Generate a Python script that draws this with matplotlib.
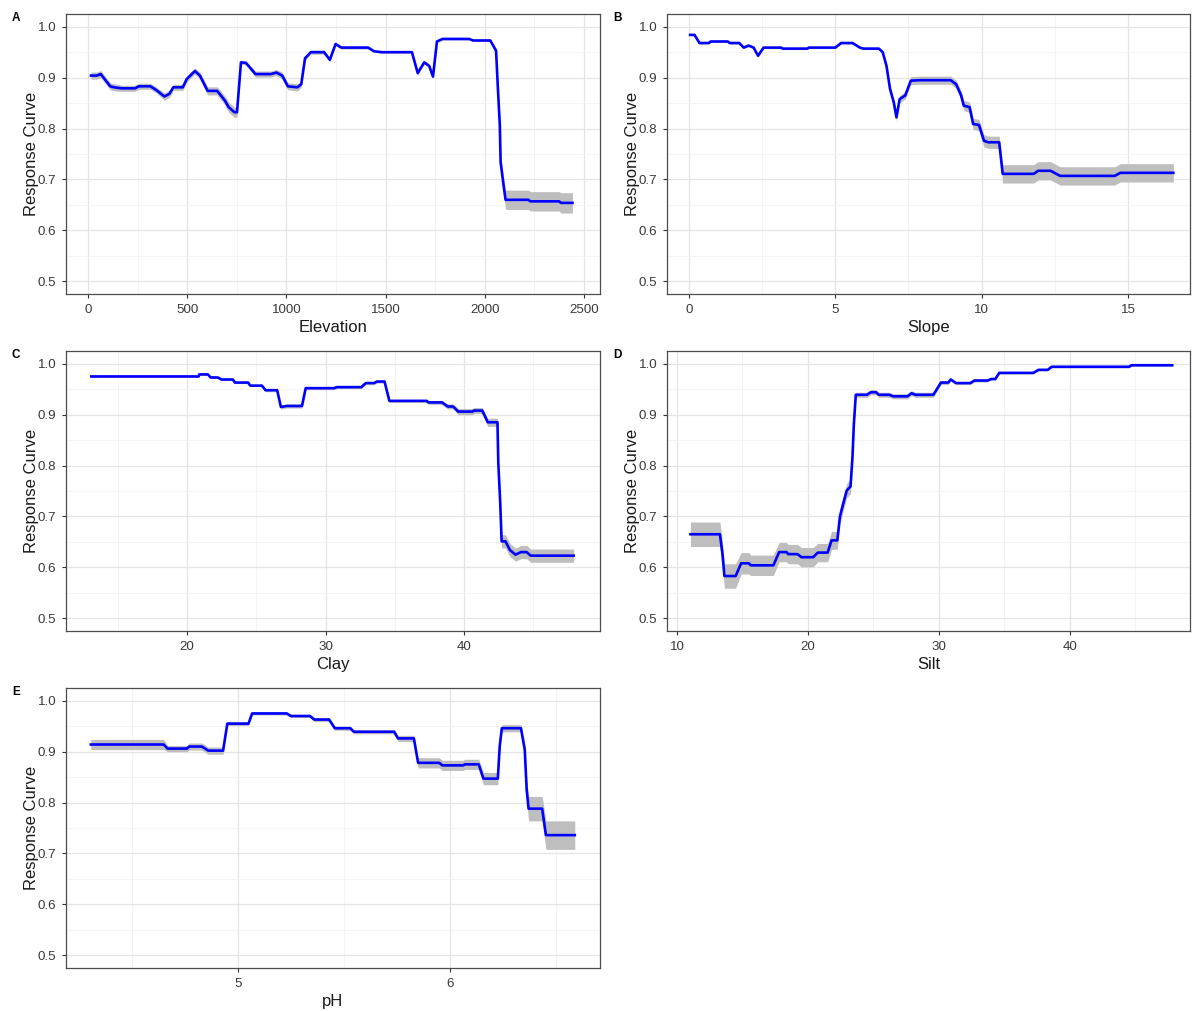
import numpy as np
import matplotlib.pyplot as plt
from matplotlib.ticker import MultipleLocator

plt.rcParams['font.family'] = ['Liberation Sans', 'DejaVu Sans']

# ---- data (x, response, half-width of grey band) ----
elev_x = [15, 44, 64, 112, 131, 169, 237, 256, 314, 343, 385, 410, 430, 478, 497, 539,
          564, 603, 651, 690, 709, 738, 751, 771, 796, 844, 921, 950, 979, 1007, 1055,
          1075, 1094, 1123, 1190, 1219, 1248, 1277, 1412, 1441, 1479, 1633, 1662, 1695,
          1720, 1739, 1759, 1787, 1922, 1941, 2028, 2057, 2066, 2076, 2080, 2095, 2105,
          2220, 2230, 2375, 2384, 2442]
elev_y = [0.904, 0.904, 0.907, 0.883, 0.881, 0.879, 0.879, 0.883, 0.883, 0.876, 0.863,
          0.868, 0.881, 0.881, 0.897, 0.913, 0.904, 0.874, 0.874, 0.855, 0.842, 0.832,
          0.832, 0.930, 0.929, 0.907, 0.907, 0.910, 0.904, 0.883, 0.881, 0.887, 0.938,
          0.950, 0.950, 0.935, 0.966, 0.959, 0.959, 0.952, 0.950, 0.950, 0.909, 0.930,
          0.923, 0.902, 0.971, 0.976, 0.976, 0.973, 0.973, 0.953, 0.881, 0.806, 0.734,
          0.688, 0.660, 0.660, 0.657, 0.657, 0.654, 0.654]
elev_se = [0.007, 0.007, 0.007, 0.007, 0.007, 0.006, 0.006, 0.006, 0.006, 0.006, 0.007,
           0.007, 0.006, 0.006, 0.006, 0.006, 0.007, 0.008, 0.008, 0.009, 0.010, 0.010,
           0.010, 0.004, 0.004, 0.006, 0.006, 0.006, 0.007, 0.007, 0.007, 0.006, 0.004,
           0.004, 0.004, 0.004, 0.003, 0.003, 0.003, 0.002, 0.002, 0.002, 0.004, 0.003,
           0.003, 0.003, 0.002, 0.002, 0.002, 0.002, 0.002, 0.003, 0.005, 0.008, 0.012,
           0.016, 0.019, 0.019, 0.019, 0.019, 0.020, 0.020]

slope_x = [0.04, 0.19, 0.36, 0.68, 0.74, 1.33, 1.39, 1.72, 1.87, 2.04, 2.21, 2.36, 2.55,
           3.15, 3.2, 4.04, 4.1, 5.0, 5.2, 5.59, 5.84, 5.97, 6.49, 6.62, 6.75, 6.87, 7.0,
           7.09, 7.2, 7.39, 7.58, 7.9, 8.94, 9.13, 9.3, 9.39, 9.59, 9.71, 9.91, 10.08,
           10.23, 10.6, 10.72, 11.78, 11.93, 12.36, 12.68, 14.55, 14.74, 16.55]
slope_y = [0.984, 0.984, 0.968, 0.968, 0.971, 0.971, 0.968, 0.968, 0.959, 0.963, 0.959,
           0.943, 0.959, 0.959, 0.957, 0.957, 0.959, 0.959, 0.968, 0.968, 0.959, 0.957,
           0.957, 0.950, 0.923, 0.878, 0.851, 0.822, 0.858, 0.865, 0.894, 0.895, 0.895,
           0.887, 0.865, 0.845, 0.842, 0.809, 0.807, 0.776, 0.773, 0.773, 0.711, 0.711,
           0.717, 0.717, 0.707, 0.707, 0.713, 0.713]
slope_se = [0.002, 0.002, 0.002, 0.002, 0.002, 0.002, 0.002, 0.002, 0.002, 0.002, 0.002,
            0.003, 0.002, 0.002, 0.002, 0.002, 0.002, 0.002, 0.002, 0.002, 0.002, 0.002,
            0.002, 0.003, 0.004, 0.005, 0.006, 0.007, 0.007, 0.007, 0.008, 0.008, 0.008,
            0.008, 0.009, 0.010, 0.010, 0.011, 0.011, 0.012, 0.012, 0.012, 0.018, 0.018,
            0.018, 0.018, 0.018, 0.018, 0.018, 0.018]

clay_x = [13.09, 20.83, 20.88, 21.5, 21.7, 22.2, 22.5, 23.3, 23.45, 24.4, 24.56, 25.4,
          25.66, 26.5, 26.77, 27.18, 28.29, 28.56, 30.6, 30.8, 32.57, 32.9, 33.5, 33.7,
          34.25, 34.6, 37.3, 37.4, 38.4, 38.8, 39.2, 39.56, 40.6, 40.7, 41.3, 41.7, 42.4,
          42.46, 42.6, 42.7, 42.98, 43.3, 43.7, 44.1, 44.5, 44.8, 47.9]
clay_y = [0.975, 0.975, 0.979, 0.979, 0.973, 0.973, 0.969, 0.969, 0.963, 0.963, 0.957,
          0.957, 0.948, 0.948, 0.915, 0.917, 0.917, 0.952, 0.952, 0.954, 0.954, 0.962,
          0.962, 0.965, 0.965, 0.927, 0.927, 0.924, 0.924, 0.916, 0.916, 0.906, 0.906,
          0.908, 0.908, 0.885, 0.885, 0.805, 0.726, 0.651, 0.651, 0.634, 0.625, 0.630,
          0.630, 0.623, 0.623]
clay_se = [0.002, 0.002, 0.002, 0.002, 0.002, 0.002, 0.002, 0.002, 0.002, 0.002, 0.002,
           0.002, 0.003, 0.003, 0.004, 0.004, 0.004, 0.003, 0.003, 0.003, 0.003, 0.003,
           0.003, 0.003, 0.003, 0.003, 0.003, 0.004, 0.004, 0.005, 0.005, 0.006, 0.006,
           0.006, 0.006, 0.008, 0.008, 0.009, 0.011, 0.013, 0.013, 0.013, 0.013, 0.013,
           0.013, 0.013, 0.013]

silt_x = [11.03, 13.28, 13.48, 13.62, 14.48, 14.9, 15.49, 15.63, 17.36, 17.8, 18.36, 18.5,
          19.2, 19.5, 20.4, 20.75, 21.5, 21.8, 22.24, 22.44, 22.7, 22.96, 23.25, 23.4,
          23.5, 23.65, 24.5, 24.8, 25.2, 25.4, 26.2, 26.5, 27.6, 27.9, 28.2, 29.57,
          30.15, 30.7, 30.9, 31.3, 32.4, 32.7, 33.7, 34.0, 34.3, 34.6, 37.2, 37.6, 38.3,
          38.6, 44.5, 44.7, 47.8]
silt_y = [0.665, 0.665, 0.625, 0.583, 0.583, 0.608, 0.608, 0.604, 0.604, 0.630, 0.630,
          0.626, 0.626, 0.620, 0.620, 0.629, 0.629, 0.653, 0.653, 0.700, 0.726, 0.751,
          0.759, 0.818, 0.880, 0.939, 0.939, 0.944, 0.944, 0.939, 0.939, 0.936, 0.936,
          0.942, 0.939, 0.939, 0.963, 0.963, 0.969, 0.962, 0.962, 0.967, 0.967, 0.970,
          0.970, 0.982, 0.982, 0.988, 0.988, 0.994, 0.994, 0.997, 0.997]
silt_se = [0.024, 0.024, 0.024, 0.024, 0.024, 0.021, 0.021, 0.020, 0.020, 0.019, 0.019,
           0.019, 0.019, 0.019, 0.019, 0.018, 0.018, 0.018, 0.017, 0.015, 0.014, 0.014,
           0.014, 0.010, 0.007, 0.005, 0.005, 0.005, 0.005, 0.005, 0.005, 0.005, 0.005,
           0.005, 0.005, 0.005, 0.004, 0.004, 0.003, 0.003, 0.003, 0.003, 0.003, 0.002,
           0.002, 0.002, 0.002, 0.002, 0.002, 0.002, 0.002, 0.002, 0.002]

ph_x = [4.306, 4.65, 4.668, 4.76, 4.77, 4.83, 4.86, 4.93, 4.95, 5.05, 5.067, 5.23, 5.25,
        5.34, 5.36, 5.43, 5.457, 5.53, 5.547, 5.737, 5.755, 5.83, 5.85, 5.95, 5.964,
        6.063, 6.07, 6.136, 6.158, 6.226, 6.235, 6.245, 6.335, 6.353, 6.362, 6.371,
        6.435, 6.453, 6.589]
ph_y = [0.914, 0.914, 0.906, 0.906, 0.910, 0.910, 0.902, 0.902, 0.955, 0.955, 0.975,
        0.975, 0.970, 0.970, 0.963, 0.963, 0.946, 0.946, 0.939, 0.939, 0.926, 0.926,
        0.878, 0.878, 0.873, 0.873, 0.875, 0.875, 0.847, 0.847, 0.911, 0.946, 0.946,
        0.904, 0.826, 0.788, 0.788, 0.736, 0.736]
ph_se = [0.010, 0.010, 0.006, 0.006, 0.007, 0.007, 0.007, 0.007, 0.004, 0.004, 0.003,
         0.003, 0.003, 0.003, 0.004, 0.004, 0.004, 0.004, 0.004, 0.004, 0.006, 0.006,
         0.010, 0.010, 0.010, 0.010, 0.010, 0.010, 0.012, 0.012, 0.010, 0.007, 0.007,
         0.012, 0.020, 0.024, 0.024, 0.028, 0.028]

panels = [
    ("A", "Elevation", elev_x, elev_y, elev_se, (-111, 2581), 500, 250),
    ("B", "Slope", slope_x, slope_y, slope_se, (-0.75, 17.12), 5, 2.5),
    ("C", "Clay", clay_x, clay_y, clay_se, (11.26, 49.8), 10, 5),
    ("D", "Silt", silt_x, silt_y, silt_se, (9.24, 49.16), 10, 5),
    ("E", "pH", ph_x, ph_y, ph_se, (4.189, 6.708), 1, 0.5),
]

W, H = 1192, 1011
fig = plt.figure(figsize=(W / 100, H / 100), dpi=100)

# panel boxes in pixels: (left, top, right, bottom)
boxes = [(66, 14, 600, 294), (667, 14, 1190, 294),
         (66, 351, 600, 631), (667, 351, 1190, 631),
         (66, 688, 600, 968)]

for (tag, xlabel, x, y, se, xlim, major, minor), (l, t, r, b) in zip(panels, boxes):
    ax = fig.add_axes([l / W, 1 - b / H, (r - l) / W, (b - t) / H])
    x = np.array(x)
    y = np.array(y)
    se = np.array(se)
    ax.fill_between(x, y - se, y + se, color='#BEBEBE', lw=0, zorder=2)
    ax.plot(x, y, color='#0000FF', lw=1.9, zorder=3)

    ax.set_xlim(*xlim)
    ax.set_ylim(0.475, 1.025)
    ax.xaxis.set_major_locator(MultipleLocator(major))
    ax.xaxis.set_minor_locator(MultipleLocator(minor))
    ax.yaxis.set_major_locator(MultipleLocator(0.1))
    ax.yaxis.set_minor_locator(MultipleLocator(0.05))
    ax.yaxis.set_major_formatter(lambda v, p: f"{v:.1f}")
    if tag == "E":
        ax.xaxis.set_major_formatter(lambda v, p: f"{v:.0f}")

    ax.grid(which='major', color='#E5E5E5', lw=0.9, zorder=0)
    ax.grid(which='minor', color='#F2F2F2', lw=0.6, zorder=0)
    ax.set_axisbelow(True)
    for s in ax.spines.values():
        s.set_color('#4D4D4D')
        s.set_linewidth(0.9)
    ax.tick_params(which='major', length=3, width=0.8, color='#333333',
                   labelsize=9.6, labelcolor='#3A3A3A', pad=4)
    ax.tick_params(which='minor', length=0)

    ax.set_xlabel(xlabel, fontsize=12, color='#1A1A1A', labelpad=3)
    ax.set_ylabel("Response Curve", fontsize=12, color='#1A1A1A', labelpad=-1)
    fig.text((l - 54) / W, 1 - (t + 4) / H, tag, fontsize=8.5, fontweight='bold',
             ha='left', va='center')

fig.savefig("out.png", dpi=100)
